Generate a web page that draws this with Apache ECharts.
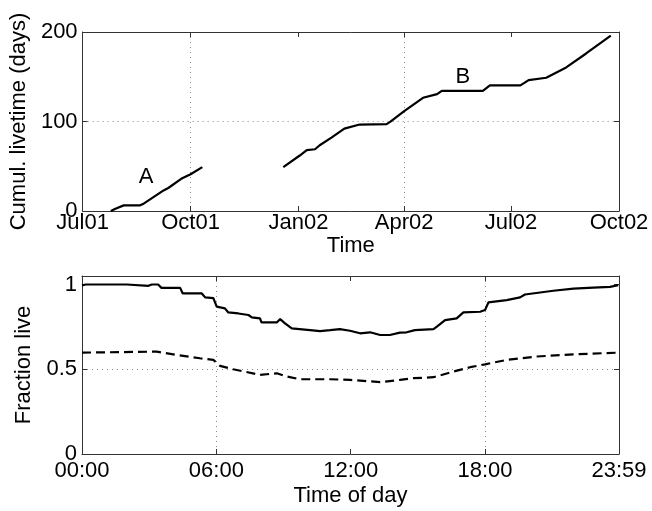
<!DOCTYPE html>
<html><head><meta charset="utf-8">
<script src="https://cdn.jsdelivr.net/npm/echarts@6/dist/echarts.min.js"></script>
<style>html,body{margin:0;padding:0;background:#fff}#c{width:652px;height:511px}</style>
</head><body><div id="c"></div>
<script>
// ---------- top panel data ----------
const periodStart = '2001-07-01';
const periodEnd = '2002-10-01';
const timeTickDates = ['2001-07-01','2001-10-01','2002-01-01','2002-04-01','2002-07-01','2002-10-01'];
const timeTickLabels = ['Jul01','Oct01','Jan02','Apr02','Jul02','Oct02'];
const livetimeTicks = [0, 100, 200];

const seriesADates = ['2001-07-25','2001-07-29','2001-08-05','2001-08-19','2001-08-22','2001-09-08','2001-09-12','2001-09-23','2001-10-01','2001-10-11'];
const seriesAValues = [0, 2.6, 6.3, 6.3, 8.2, 23, 25.7, 36, 41, 49];

const seriesBDates = ['2001-12-19','2002-01-02','2002-01-08','2002-01-15','2002-01-19','2002-01-29','2002-02-09','2002-02-22','2002-03-17','2002-03-20','2002-04-01','2002-04-17','2002-04-29','2002-05-03','2002-06-07','2002-06-13','2002-07-09','2002-07-16','2002-07-31','2002-08-17','2002-09-03','2002-09-24'];
const seriesBValues = [49, 62, 68, 69, 73.5, 82, 92, 96.6, 97, 99.6, 111.6, 126.5, 130.6, 134.3, 134.3, 140.3, 140.3, 146.3, 148.9, 160.4, 176, 196];

const annotationDates = ['2001-08-24','2002-05-21'];
const annotationValues = [37.7, 150];
const annotationTexts = ['A','B'];

// ---------- bottom panel data ----------
const dayTickTimes = ['00:00','06:00','12:00','18:00','23:59'];
const fractionTicks = [0, 0.5, 1];

const solidTimes = ['00:00','00:10','02:00','02:02','02:58','03:07','03:24','03:33','04:23','04:30','05:21','05:30','05:52','06:01','06:23','06:32','06:59','07:26','07:35','07:57','08:01','08:42','08:51','09:04','09:22','10:11','10:38','11:05','11:31','11:58','12:25','12:52','13:19','13:45','14:12','14:30','14:52','15:42','15:51','16:13','16:44','17:02','17:47','18:00','18:09','18:58','19:34','19:47','21:03','21:57','22:50','23:35','23:57'];
const solidValues = [0.995,1.0,1.0,0.992,0.992,1.0,1.0,0.98,0.98,0.947,0.947,0.924,0.92,0.869,0.859,0.835,0.829,0.82,0.806,0.8,0.776,0.776,0.796,0.771,0.741,0.731,0.725,0.731,0.737,0.727,0.712,0.718,0.702,0.702,0.716,0.718,0.731,0.737,0.751,0.79,0.8,0.835,0.839,0.849,0.894,0.908,0.924,0.941,0.963,0.976,0.982,0.986,0.996];

const dashedTimes = ['00:00','03:20','04:14','05:16','05:52','06:10','06:45','07:57','08:42','09:09','09:44','11:05','11:58','13:19','14:12','14:48','15:42','16:35','17:20','18:00','18:58','20:19','21:57','23:57'];
const dashedValues = [0.598,0.604,0.584,0.565,0.555,0.52,0.5,0.467,0.476,0.457,0.441,0.441,0.437,0.424,0.437,0.447,0.453,0.486,0.512,0.529,0.555,0.575,0.588,0.598];

// ---------- helpers ----------
const FONT = '"Liberation Sans", Arial, Helvetica, sans-serif';
const FS = 22;
function dayOf(s) {
  const p = s.split('-').map(Number), q = periodStart.split('-').map(Number);
  return (Date.UTC(p[0], p[1]-1, p[2]) - Date.UTC(q[0], q[1]-1, q[2])) / 86400000;
}
function minOf(s) { const p = s.split(':').map(Number); return p[0]*60 + p[1]; }
const zip = (xs, ys, f) => xs.map((x, i) => [f(x), ys[i]]);

const timeTickDays = timeTickDates.map(dayOf);
const dayTickMins = dayTickTimes.map(minOf);
const axisColor = '#333';
const gridLine = { show: true, lineStyle: { color: ['rgba(0,0,0,0)', '#8a8a8a'], type: [1, 4], width: 1 } };

function mainX(grid, min, max, ticks, fmt, margin) {
  return {
    type: 'value', gridIndex: grid, min, max, position: 'bottom',
    axisLine: { show: true, lineStyle: { color: axisColor, width: 1 } },
    axisTick: { show: true, inside: true, length: 5, customValues: ticks, lineStyle: { color: axisColor } },
    axisLabel: { customValues: ticks, formatter: fmt, color: '#000', fontFamily: FONT, fontSize: FS, margin },
    splitLine: gridLine
  };
}
function mirrorX(grid, min, max, ticks) {
  return {
    type: 'value', gridIndex: grid, min, max, position: 'top',
    axisLine: { show: true, onZero: false, lineStyle: { color: axisColor, width: 1 } },
    axisTick: { show: true, inside: true, length: 5, customValues: ticks, lineStyle: { color: axisColor } },
    axisLabel: { show: false }, splitLine: { show: false }
  };
}
function mainY(grid, min, max, ticks, fmt, name) {
  return {
    type: 'value', gridIndex: grid, min, max, position: 'left',
    name, nameLocation: 'middle', nameGap: 47,
    nameTextStyle: { color: '#000', fontFamily: FONT, fontSize: FS },
    axisLine: { show: true, lineStyle: { color: axisColor, width: 1 } },
    axisTick: { show: true, inside: true, length: 5, customValues: ticks, lineStyle: { color: axisColor } },
    axisLabel: { customValues: ticks, formatter: fmt, color: '#000', fontFamily: FONT, fontSize: FS, margin: 5 },
    splitLine: { show: true, lineStyle: { color: ['rgba(0,0,0,0)', '#8a8a8a'], type: [1, 4], width: 1 } }
  };
}
function mirrorY(grid, min, max, ticks) {
  return {
    type: 'value', gridIndex: grid, min, max, position: 'right',
    axisLine: { show: true, onZero: false, lineStyle: { color: axisColor, width: 1 } },
    axisTick: { show: true, inside: true, length: 5, customValues: ticks, lineStyle: { color: axisColor } },
    axisLabel: { show: false }, splitLine: { show: false }
  };
}

const xMax0 = dayOf(periodEnd);
const topLabel = v => { const i = timeTickDays.indexOf(v); return i >= 0 ? timeTickLabels[i] : ''; };
const botLabel = v => { const i = dayTickMins.indexOf(v); return i >= 0 ? dayTickTimes[i] : ''; };

const lineBase = { type: 'line', symbol: 'none', silent: true, animation: false };

const option = {
  animation: false,
  backgroundColor: '#fff',
  grid: [
    { left: 82, top: 32, width: 537, height: 179 },
    { left: 82, top: 276, width: 537, height: 178 }
  ],
  xAxis: [
    Object.assign(mainX(0, 0, xMax0, timeTickDays, topLabel, 1), { name: 'Time', nameLocation: 'middle', nameGap: 20, nameTextStyle: { color: '#000', fontFamily: FONT, fontSize: FS, verticalAlign: 'top' } }),
    mirrorX(0, 0, xMax0, timeTickDays),
    Object.assign(mainX(1, 0, 1439, dayTickMins, botLabel, 6), { name: 'Time of day', nameLocation: 'middle', nameGap: 31, nameTextStyle: { color: '#000', fontFamily: FONT, fontSize: FS, verticalAlign: 'top' } }),
    mirrorX(1, 0, 1439, dayTickMins)
  ],
  yAxis: [
    mainY(0, 0, 200, livetimeTicks, v => String(v), 'Cumul. livetime (days)'),
    mirrorY(0, 0, 200, livetimeTicks),
    mainY(1, 0, 1.05, fractionTicks, v => String(v), 'Fraction live'),
    mirrorY(1, 0, 1.05, fractionTicks)
  ],
  series: [
    Object.assign({}, lineBase, { xAxisIndex: 0, yAxisIndex: 0, data: zip(seriesADates, seriesAValues, dayOf), lineStyle: { color: '#000', width: 2.2 } }),
    Object.assign({}, lineBase, { xAxisIndex: 0, yAxisIndex: 0, data: zip(seriesBDates, seriesBValues, dayOf), lineStyle: { color: '#000', width: 2.2 } }),
    { type: 'scatter', xAxisIndex: 0, yAxisIndex: 0, symbolSize: 0, silent: true,
      itemStyle: { opacity: 1, color: '#000' },
      data: annotationDates.map((d, i) => ({ value: [dayOf(d), annotationValues[i]], name: annotationTexts[i] })),
      label: { show: true, position: 'inside', opacity: 1, formatter: p => p.name, color: '#000', fontFamily: FONT, fontSize: FS } },
    Object.assign({}, lineBase, { xAxisIndex: 2, yAxisIndex: 2, data: zip(solidTimes, solidValues, minOf), lineStyle: { color: '#000', width: 2.2 } }),
    Object.assign({}, lineBase, { xAxisIndex: 2, yAxisIndex: 2, data: zip(dashedTimes, dashedValues, minOf), lineStyle: { color: '#000', width: 2.2, type: [9, 5] } })
  ]
};
const chart = echarts.init(document.getElementById('c'), null, { renderer: 'canvas' });
chart.setOption(option);
</script></body></html>
